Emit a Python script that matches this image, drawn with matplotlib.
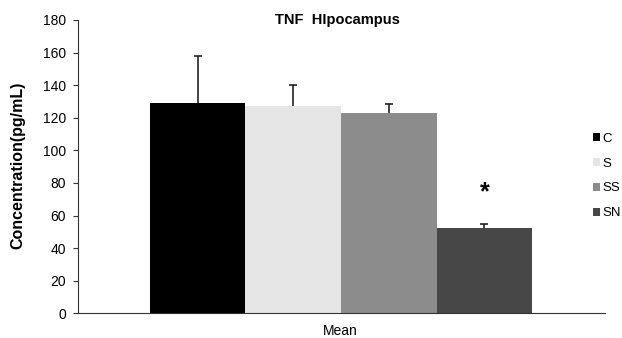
import numpy as np
import matplotlib.pyplot as plt

plt.rcParams['font.family'] = ['Liberation Sans', 'DejaVu Sans']

# data
groups = ['C', 'S', 'SS', 'SN']
means = [129, 127, 123, 52.5]
errors = [29, 13, 5.5, 2.5]
colors = ['#000000', '#e6e6e6', '#8c8c8c', '#474747']
star_group = 'SN'

fig = plt.figure(figsize=(6.22, 3.38), dpi=100)
ax = fig.add_axes([0.1254, 0.073, 0.847, 0.868])

x = np.arange(len(groups))
for i, g in enumerate(groups):
    ax.bar(x[i], means[i], width=1.0, color=colors[i], label=g, zorder=2)
    eb = ax.errorbar(x[i], means[i], yerr=[[0], [errors[i]]], fmt='none',
                     ecolor='#222222', elinewidth=1.2, capsize=3, capthick=1.2,
                     zorder=3)
    # only the upper cap, like the original
    eb[1][0].set_visible(False)

# significance marker
i_star = groups.index(star_group)
ax.text(x[i_star], means[i_star] + errors[i_star] + 19, '*', ha='center', va='center',
        fontsize=18, fontweight='bold')

ax.set_xlim(-1.25, 4.26)
ax.set_ylim(0, 180)
ax.set_yticks(np.arange(0, 181, 20))
ax.set_xticks([])
ax.tick_params(axis='y', labelsize=10, length=3.6, pad=5, color='#333333')
ax.spines['top'].set_visible(False)
ax.spines['right'].set_visible(False)
ax.spines['left'].set_color('#333333')
ax.spines['bottom'].set_color('#333333')

ax.set_ylabel('Concentration(pg/mL)', fontsize=11.5, fontweight='bold')
ax.yaxis.set_label_coords(-0.099, 0.506)
ax.text(0.493, 1.0, 'TNF  HIpocampus', transform=ax.transAxes, ha='center',
        va='center', fontsize=10.5, fontweight='bold')
fig.text(0.547, 0.02, 'Mean', ha='center', va='center', fontsize=10)

ax.legend(loc='center left', bbox_to_anchor=(0.955, 0.468), frameon=False,
          fontsize=9.5, handlelength=0.55, handleheight=0.55, handletextpad=0.15,
          labelspacing=0.97)

plt.savefig('out.png', dpi=100)
plt.close()
